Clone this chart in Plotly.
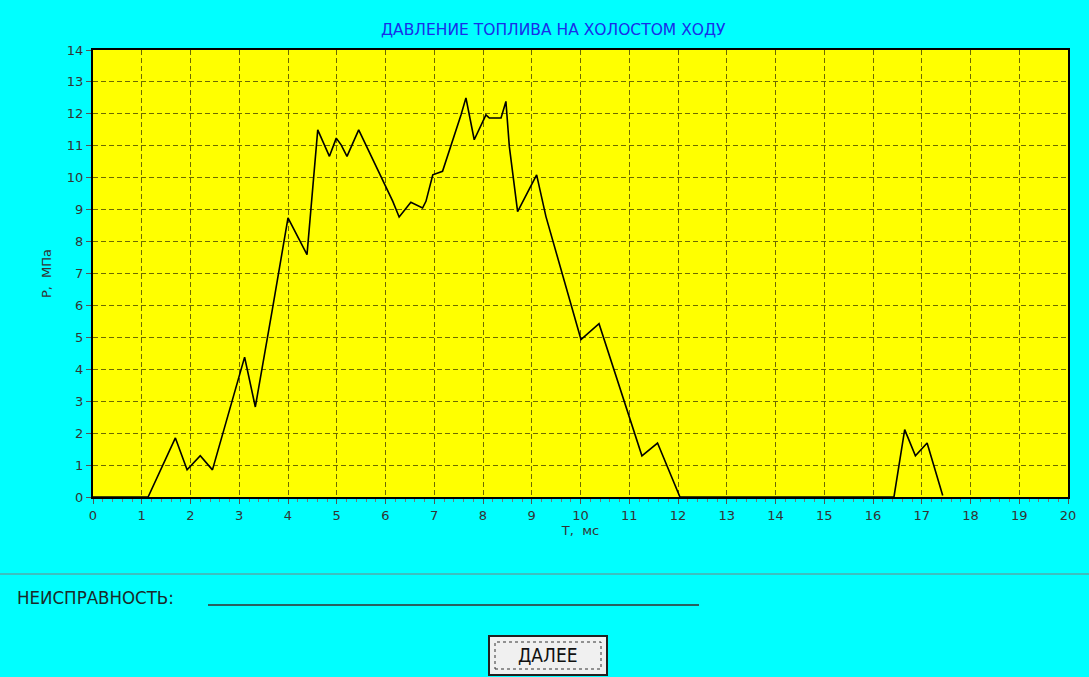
import plotly.graph_objects as go

# Time (ms) and pressure (MPa)
t_ms = [0.0, 1.13, 1.69, 1.93, 2.20, 2.45, 3.11, 3.33, 3.69, 4.00, 4.39, 4.61, 4.85, 4.99, 5.09, 5.21,
        5.45, 5.77, 6.15, 6.28, 6.52, 6.76, 6.83, 6.97, 7.17, 7.55, 7.65, 7.82, 8.06, 8.13, 8.37,
        8.47, 8.54, 8.71, 8.95, 9.10, 9.29, 10.01, 10.38, 11.26, 11.58, 12.04, 16.43, 16.65, 16.87,
        17.11, 17.43]
p_mpa = [0.0, 0.0, 1.85, 0.85, 1.29, 0.85, 4.38, 2.82, 5.97, 8.74, 7.59, 11.5, 10.67, 11.24, 11.03, 10.67,
         11.5, 10.46, 9.26, 8.77, 9.23, 9.05, 9.26, 10.09, 10.2, 11.97, 12.5, 11.19, 11.97, 11.87, 11.87,
         12.39, 10.98, 8.94, 9.62, 10.09, 8.79, 4.93, 5.43, 1.29, 1.69, 0.0, 0.0, 2.11, 1.29,
         1.69, 0.05]

x_ticks = list(range(0, 21))
y_ticks = list(range(0, 15))

title_text = "ДАВЛЕНИЕ ТОПЛИВА НА ХОЛОСТОМ ХОДУ"
x_title = "T,  мс"
y_title = "P,  МПа"
fault_label = "НЕИСПРАВНОСТЬ:"
button_label = "ДАЛЕЕ"

W, H = 1089, 677
L, R, T, B = 93, 1068, 50, 497

fig = go.Figure()
fig.add_trace(go.Scatter(x=t_ms, y=p_mpa, mode="lines",
                         line=dict(color="black", width=1.6), hoverinfo="skip"))

grid = dict(showgrid=True, gridcolor="#6e6a00", griddash="5px,3px", gridwidth=1)
tick_font = dict(family="DejaVu Sans, Verdana", size=13, color="#333")
axis_title_font = dict(family="DejaVu Sans, Verdana", size=13, color="#333")
narrow_font = "Liberation Sans Narrow, DejaVu Sans Condensed, Arial Narrow"

fig.update_xaxes(range=[0, 20], tickvals=x_ticks, ticktext=[str(v) for v in x_ticks],
                 ticks="outside", ticklen=5, tickcolor="#555", zeroline=False,
                 showline=True, linecolor="black", linewidth=2, mirror=True,
                 tickfont=tick_font,
                 minor=dict(dtick=0.2, ticks="outside", ticklen=3, tickcolor="#777", showgrid=False),
                 title=dict(text=x_title, font=axis_title_font, standoff=2),
                 **grid)
fig.update_yaxes(range=[0, 14], tickvals=y_ticks, ticktext=[str(v) for v in y_ticks],
                 ticks="outside", ticklen=5, tickcolor="#555", zeroline=False,
                 showline=True, linecolor="black", linewidth=2, mirror=True,
                 tickfont=tick_font,
                 title=dict(text=y_title, font=axis_title_font, standoff=12),
                 **grid)

shapes = [
    # separator
    dict(type="line", xref="paper", yref="paper", x0=-L / (R - L), x1=(W - L) / (R - L),
         y0=(B - 574) / (B - T), y1=(B - 574) / (B - T), line=dict(color="#3cc0c0", width=2)),
    # underline for fault field
    dict(type="line", xref="paper", yref="paper", x0=(208 - L) / (R - L), x1=(699 - L) / (R - L),
         y0=(B - 605) / (B - T), y1=(B - 605) / (B - T), line=dict(color="#2a6060", width=2)),
    # button
    dict(type="rect", xref="paper", yref="paper", x0=(489 - L) / (R - L), x1=(607 - L) / (R - L),
         y0=(B - 675) / (B - T), y1=(B - 636) / (B - T), fillcolor="#f0f0f0",
         line=dict(color="#202020", width=2)),
    dict(type="rect", xref="paper", yref="paper", x0=(495 - L) / (R - L), x1=(601 - L) / (R - L),
         y0=(B - 669) / (B - T), y1=(B - 642) / (B - T), fillcolor="rgba(0,0,0,0)",
         line=dict(color="#333", width=1, dash="dot")),
]

annotations = [
    dict(text=title_text, xref="paper", yref="paper", x=(553 - L) / (R - L), y=(B - 30) / (B - T),
         showarrow=False, xanchor="center", yanchor="middle",
         font=dict(family="DejaVu Sans, Verdana", size=15.5, color="#1a2ee8")),
    dict(text=fault_label, xref="paper", yref="paper", x=(15 - L) / (R - L), y=(B - 597) / (B - T),
         showarrow=False, xanchor="left", yanchor="middle",
         font=dict(family=narrow_font, size=18.5, color="#1a2a2a")),
    dict(text=button_label, xref="paper", yref="paper", x=(548 - L) / (R - L), y=(B - 655) / (B - T),
         showarrow=False, xanchor="center", yanchor="middle",
         font=dict(family=narrow_font, size=19, color="#111")),
]

fig.update_layout(width=W, height=H, paper_bgcolor="#00ffff", plot_bgcolor="#ffff00",
                  margin=dict(l=L, r=W - R, t=T, b=H - B, autoexpand=False),
                  showlegend=False, shapes=shapes, annotations=annotations)

fig.write_html("out.html", config={"displayModeBar": False},
               post_script="document.body.style.margin='0';document.body.style.overflow='hidden';"
                           "document.body.style.background='#00ffff';")
